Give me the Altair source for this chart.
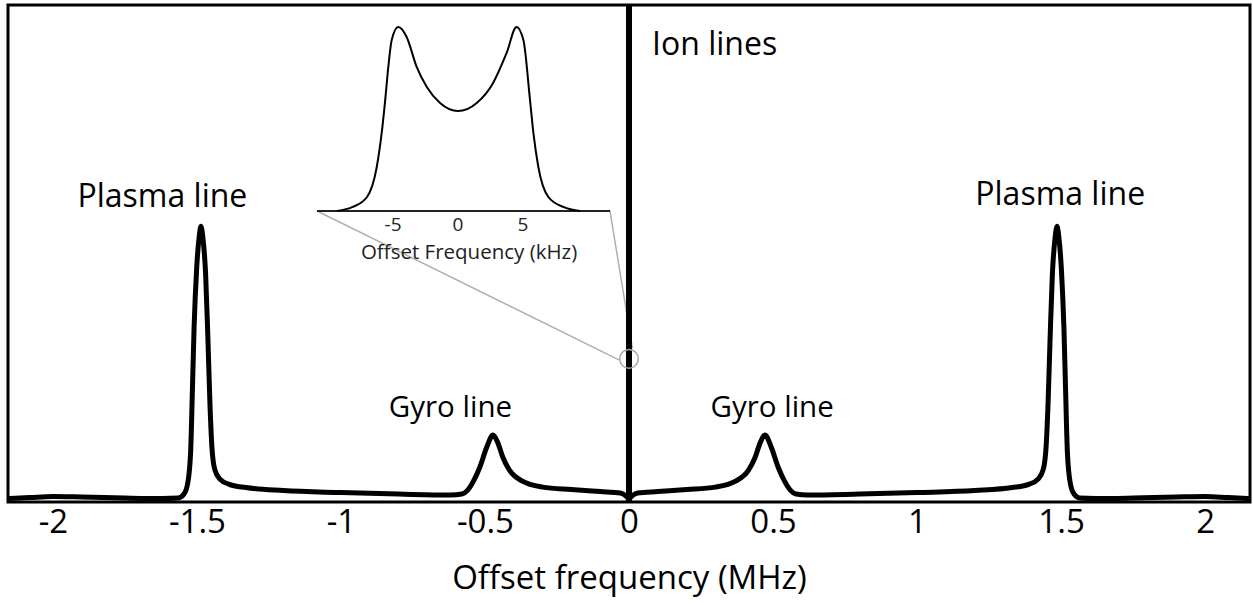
import altair as alt
import pandas as pd

# ---- main spectrum (MHz, relative power) ----
freq_mhz = [-2.156, -2.08, -2.0, -1.9, -1.75, -1.62, -1.565, -1.545, -1.532, -1.522, -1.516, -1.51,
            -1.501, -1.492, -1.486, -1.479, -1.47, -1.462, -1.455, -1.448, -1.438, -1.42, -1.39,
            -1.33, -1.2, -1.0, -0.8, -0.62, -0.58, -0.56, -0.54, -0.518, -0.494, -0.472, -0.456,
            -0.438, -0.415, -0.37, -0.3, -0.2, -0.1, -0.03, -0.01, 0.0,
            0.01, 0.03, 0.1, 0.2, 0.3, 0.37, 0.415, 0.438, 0.456, 0.472, 0.494, 0.518, 0.54, 0.56,
            0.58, 0.62, 0.8, 1.0, 1.2, 1.33, 1.39, 1.42, 1.438, 1.448, 1.455, 1.462, 1.47, 1.479,
            1.486, 1.492, 1.501, 1.51, 1.516, 1.522, 1.532, 1.545, 1.565, 1.62, 1.75, 1.9, 2.0,
            2.08, 2.156]
power = [0.7, 0.9, 1.1, 1.0, 0.8, 0.7, 0.8, 1.6, 3.8, 10, 22, 35,
         47, 53.5, 55.5, 53, 46, 33, 20, 11, 6.5, 4.6, 3.6,
         2.9, 2.3, 1.9, 1.6, 1.4, 1.6, 2.4, 4.2, 7.0, 11.0, 13.5, 12.0,
         9.0, 6.4, 4.2, 3.0, 2.5, 2.1, 1.8, 1.2, 0.6,
         1.2, 1.8, 2.1, 2.5, 3.0, 4.2, 6.4, 9.0, 12.0, 13.5, 11.0, 7.0, 4.2, 2.4,
         1.6, 1.4, 1.6, 1.9, 2.3, 2.9, 3.6, 4.6, 6.5, 11, 20, 33, 46, 53,
         55.5, 53.5, 47, 35, 22, 10, 3.8, 1.6, 0.8, 0.7, 0.8, 1.0, 1.1,
         0.9, 0.7]

tick_values = [-2, -1.5, -1, -0.5, 0, 0.5, 1, 1.5, 2]

plasma_text, plasma_x, plasma_y = ["Plasma line", "Plasma line"], [-1.62, 1.497], [61.4, 61.8]
gyro_text, gyro_x, gyro_y = ["Gyro line", "Gyro line"], [-0.62, 0.497], [18.9, 18.9]
ion_text, ion_x, ion_y = ["Ion lines"], [0.08], [92]

# ---- inset ion-line spectrum (kHz, normalised) ----
inset_khz = [-9.3, -8.1, -7.0, -6.25, -5.87, -5.6, -5.36, -5.1, -4.6, -3.95, -3.18, -2.4, -1.38, 0,
             1.44, 2.7, 3.74, 4.5, 5.03, 5.54, 5.8, 6.18, 6.95, 8.1, 9.4]
inset_pow = [0, 0.022, 0.076, 0.239, 0.424, 0.603, 0.783, 0.929, 1.0, 0.946, 0.783, 0.674, 0.587, 0.543,
             0.587, 0.696, 0.859, 1.0, 0.929, 0.603, 0.424, 0.239, 0.076, 0.022, 0]
inset_ticks = [-5, 0, 5]
inset_title = "Offset Frequency (kHz)"

# zoom circle & connectors (main coordinates)
circle_x, circle_y = [0.0], [28.8]
conn_id = ["a", "a", "b", "b"]
conn_x = [-1.083, -0.035, -0.066, 0.012]
conn_y = [58.55, 28.6, 58.55, 30.9]

FONT = "Open Sans"
XDOM = [-2.156, 2.156]


def xs():
    return alt.Scale(domain=XDOM, nice=False, zero=False)


def ys():
    return alt.Scale(domain=[0, 100], nice=False, zero=False)


def ixs():
    return alt.Scale(domain=[-10, 10], range=[320, 580], nice=False, zero=False)


def iys():
    return alt.Scale(domain=[0, 1], range=[206, 22], nice=False, zero=False)


def text_layer(texts, x, y, size, align="center"):
    return alt.Chart(pd.DataFrame({"t": texts, "x": x, "y": y})).mark_text(
        font=FONT, fontSize=size, color="black", align=align, baseline="middle").encode(
        x=alt.X("x:Q", scale=xs(), axis=None), y=alt.Y("y:Q", scale=ys(), axis=None), text="t:N")


main_df = pd.DataFrame({"f": freq_mhz, "p": power})

curve = alt.Chart(main_df).mark_line(color="black", strokeWidth=5, interpolate="monotone").encode(
    x=alt.X("f:Q", scale=xs(),
            axis=alt.Axis(values=tick_values, labelExpr="'' + datum.value", domain=False, ticks=False,
                          grid=False, labelFontSize=33, labelFont=FONT, labelColor="black",
                          labelPadding=4, title="Offset frequency (MHz)", titleFont=FONT,
                          titleFontSize=33, titleFontWeight="normal", titleColor="black",
                          titlePadding=23)),
    y=alt.Y("p:Q", scale=ys(), axis=None),
)

ion = alt.Chart(pd.DataFrame({"f": [0.0], "y0": [0.0], "y1": [100.0]})).mark_rule(
    color="black", strokeWidth=6).encode(
    x=alt.X("f:Q", scale=xs(), axis=None),
    y=alt.Y("y0:Q", scale=ys(), axis=None), y2="y1:Q")

lab_p = text_layer(plasma_text, plasma_x, plasma_y, 32)
lab_g = text_layer(gyro_text, gyro_x, gyro_y, 29.5)
lab_i = text_layer(ion_text, ion_x, ion_y, 32, align="left")

conn = alt.Chart(pd.DataFrame({"id": conn_id, "x": conn_x, "y": conn_y})).mark_line(
    color="#b0b0b0", strokeWidth=1.5).encode(
    x=alt.X("x:Q", scale=xs(), axis=None), y=alt.Y("y:Q", scale=ys(), axis=None), detail="id:N")
circ = alt.Chart(pd.DataFrame({"x": circle_x, "y": circle_y})).mark_point(
    shape="circle", size=346, filled=False, color="#a8a8a8", strokeWidth=1.5, opacity=1).encode(
    x=alt.X("x:Q", scale=xs(), axis=None), y=alt.Y("y:Q", scale=ys(), axis=None))

inset_df = pd.DataFrame({"k": inset_khz, "h": inset_pow})
icurve = alt.Chart(inset_df).mark_line(color="black", strokeWidth=2, interpolate="monotone").encode(
    x=alt.X("k:Q", scale=ixs(), axis=None), y=alt.Y("h:Q", scale=iys(), axis=None))
iaxis = alt.Chart(pd.DataFrame({"k": [-10.85], "k2": [11.7], "h": [0.0]})).mark_rule(
    color="#222222", strokeWidth=2).encode(
    x=alt.X("k:Q", scale=ixs(), axis=None), x2="k2:Q",
    y=alt.Y("h:Q", scale=iys(), axis=None))
iticks = alt.Chart(pd.DataFrame({"k": inset_ticks, "h": [-0.075] * 3,
                                 "t": [str(v) for v in inset_ticks]})).mark_text(
    font=FONT, fontSize=19, color="#222222", baseline="middle").encode(
    x=alt.X("k:Q", scale=ixs(), axis=None), y=alt.Y("h:Q", scale=iys(), axis=None), text="t:N")
ititle = alt.Chart(pd.DataFrame({"k": [0.85], "h": [-0.228], "t": [inset_title]})).mark_text(
    font=FONT, fontSize=20.5, color="#222222", baseline="middle").encode(
    x=alt.X("k:Q", scale=ixs(), axis=None), y=alt.Y("h:Q", scale=iys(), axis=None), text="t:N")

chart = alt.layer(conn, curve, ion, circ, lab_p, lab_g, lab_i, iaxis, icurve, iticks, ititle).resolve_scale(
    x="independent", y="independent").properties(
    width=1242, height=497,
    autosize=alt.AutoSizeParams(type="none"),
    padding={"left": 8, "top": 5, "right": 3, "bottom": 103},
    background="white",
).configure_view(stroke="black", strokeWidth=3)

chart.save("out.html", embed_options={"renderer": "svg", "actions": False})
